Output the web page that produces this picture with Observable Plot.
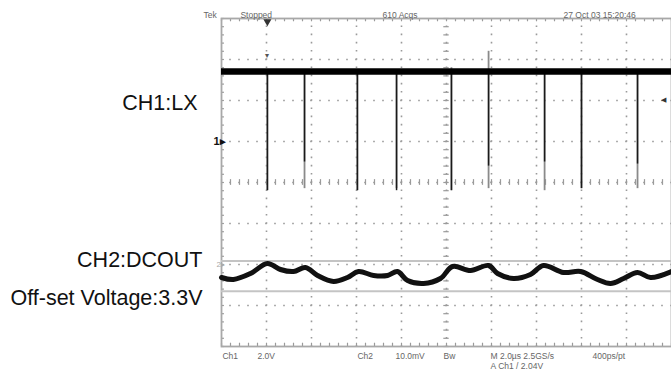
<!DOCTYPE html>
<html><head><meta charset="utf-8">
<script src="https://cdn.jsdelivr.net/npm/d3@7"></script>
<script src="https://cdn.jsdelivr.net/npm/@observablehq/plot@0.6"></script>
<style>
html,body{margin:0;padding:0;background:#fff;overflow:hidden;}
#chart svg{display:block;}
</style></head><body><div id="chart"></div>
<script>
// ---- scope settings ----
const timeDivs = [0, 2, 4, 6, 8, 10, 12, 14, 16, 18, 20];   // µs (2.0 µs/div)
const vertDivs = [-4, -3, -2, -1, 0, 1, 2, 3, 4];           // divisions
const ch1VoltsPerDiv = 2.0;
const ch1Offset = 1;      // CH1 ground marker (div)
const ch2mVPerDiv = 10.0;
const ch2Offset = -2;     // CH2 marker (div) = 3.3 V offset
const trigLevel = 2.04;   // V on CH1
const trigTime = 2.04;    // µs

// ---- CH1 : LX ----
const ch1High = 3.41;     // V
const spikeTimes   = [2.04, 3.69, 6.04, 7.78, 10.22, 11.87, 14.36, 16.0, 18.49];
const spikeMin     = [-2.4, -2.3, -2.4, -2.3, -2.4, -2.3, -2.4, -2.3, -2.3];
const spikeDarkMin = [-2.4, -1.0, -2.4, -2.4, -2.4, -1.2, -1.0, -2.3, -1.1];
const spikeMax     = [3.41, 3.41, 3.41, 3.41, 3.6, 4.4, 3.41, 3.41, 3.41];

// ---- CH2 : DCOUT ripple (mV, relative to 3.3 V offset) ----
const ch2Time = [0.00, 0.53, 1.29, 2.04, 2.62, 3.20, 3.73, 4.27, 4.98, 5.60, 6.09, 6.76, 7.38, 7.82,
                 8.27, 8.98, 9.73, 10.27, 11.07, 11.87, 12.27, 12.98, 13.73, 14.31, 15.20, 15.96,
                 16.71, 17.29, 17.87, 18.49, 19.07, 20.00];
const ch2mV   = [-3.17, -3.66, -2.20, 0.24, -1.22, -1.71, -0.73, -2.68, -4.15, -3.17, -1.71, -2.68, -2.68, -1.71,
                 -3.90, -4.63, -3.41, -0.49, -1.46, -0.24, -2.20, -3.41, -2.44, -0.24, -1.95, -1.71,
                 -3.66, -4.63, -3.41, -1.95, -3.17, -1.71];
const cursorsmV = [0.85, -6.5];

// ---- texts ----
const sideLabels = ["CH1:LX", "CH2:DCOUT", "Off-set Voltage:3.3V"];
const headerText = ["Tek", "Stopped", "610 Acqs", "27 Oct 03 15:20:46"];
const footerLine1 = ["Ch1", "2.0V", "Ch2", "10.0mV", "Bw", "M 2.0µs 2.5GS/s", "400ps/pt"];
const footerLine2 = ["A Ch1 / 2.04V"];

const toDiv1 = v => ch1Offset + v / ch1VoltsPerDiv;
const toDiv2 = mv => ch2Offset + mv / ch2mVPerDiv;

const minorX = d3.range(0, 20.001, 0.4);
const minorY = d3.range(-4, 4.001, 0.2);

const spikes = spikeTimes.map((t, i) => ({t, lo: spikeMin[i], dark: spikeDarkMin[i], hi: spikeMax[i]}));
const ch2 = ch2Time.map((t, i) => ({t, v: ch2mV[i]}));

const font = "Liberation Sans, Arial, sans-serif";
const gridColor = "#9a9a9a";

const chart = Plot.plot({
  width: 671, height: 378,
  marginLeft: 221, marginRight: 0, marginTop: 18, marginBottom: 32,
  x: {domain: [0, 20], axis: null},
  y: {domain: [-4, 4], axis: null},
  style: {background: "#fff", overflow: "visible", fontFamily: font},
  marks: [
    // graticule
    Plot.ruleX(timeDivs.slice(1, -1), {x: d => d, stroke: gridColor, strokeWidth: 1.6,
      strokeDasharray: "1.6,6.6", strokeDashoffset: 0.8}),
    Plot.ruleY(vertDivs.slice(1, -1), {y: d => d, stroke: gridColor, strokeWidth: 1.6,
      strokeDasharray: "1.6,7.4", strokeDashoffset: 0.8}),
    // centre-line ticks
    Plot.ruleY(minorY, {y: d => d, x1: 10 - 0.12, x2: 10 + 0.12, stroke: gridColor, strokeWidth: 1.2}),
    Plot.ruleX(minorX, {x: d => d, y1: -0.07, y2: 0.07, stroke: gridColor, strokeWidth: 1.2}),
    // border ticks
    Plot.ruleX(minorX, {x: d => d, y1: 4, y2: 3.92, stroke: gridColor, strokeWidth: 1.2}),
    Plot.ruleX(minorX, {x: d => d, y1: -4, y2: -3.92, stroke: gridColor, strokeWidth: 1.2}),
    Plot.ruleY(minorY, {y: d => d, x1: 0, x2: 0.13, stroke: gridColor, strokeWidth: 1.2}),
    Plot.frame({stroke: "#a8a8a8", strokeWidth: 1.8}),

    // CH2 cursor bars
    Plot.ruleY(cursorsmV, {y: d => toDiv2(d), stroke: "#c4c4c4", strokeWidth: 2}),

    // CH1 spikes
    Plot.ruleX(spikes, {x: "t", y1: d => toDiv1(d.lo), y2: d => toDiv1(d.hi), stroke: "#8a8a8a", strokeWidth: 1.8}),
    Plot.ruleX(spikes, {x: "t", y1: d => toDiv1(d.dark), y2: d => toDiv1(ch1High), stroke: "#1a1a1a", strokeWidth: 1.5}),
    // CH1 high level
    Plot.ruleY([ch1High], {y: d => toDiv1(d), stroke: "#000", strokeWidth: 6.5}),

    // CH2 ripple
    Plot.line(ch2, {x: "t", y: d => toDiv2(d.v), curve: "catmull-rom", stroke: "#111", strokeWidth: 5,
      strokeLinejoin: "round", strokeLinecap: "round"}),

    // markers
    Plot.text(["1\u25B8"], {frameAnchor: "left", y: ch1Offset, dx: -8, fontSize: 11, fontWeight: "bold", fill: "#111"}),
    Plot.text(["2\u25B8"], {frameAnchor: "left", y: ch2Offset, dx: -5, fontSize: 8, fill: "#aaa"}),
    Plot.text(["\u25C0"], {frameAnchor: "right", y: toDiv1(trigLevel), dx: -6, fontSize: 7, fill: "#333"}),
    Plot.dot([trigTime], {x: d => d, y: 4, symbol: "triangle", rotate: 180, r: 3, fill: "#333", dy: 3}),
    Plot.text(["\u25BE"], {x: [trigTime], y: 3.1, fontSize: 8, fill: "#555"}),

    // side labels
    Plot.text([sideLabels[0]], {frameAnchor: "left", y: 1.94, dx: -24, textAnchor: "end", fontSize: 21.5, fill: "#111"}),
    Plot.text(sideLabels.slice(1), {frameAnchor: "left", y: [-1.89, -2.82], dx: -19, textAnchor: "end", fontSize: 21.5, fill: "#111"}),

    // header
    Plot.text(headerText, {x: [-0.8, 0.84, 7.16, 15.2], frameAnchor: "top", dy: -7, textAnchor: "start",
      fontSize: 8.5, fill: "#666"}),
    // footer
    Plot.text(footerLine1, {x: [0.04, 1.6, 6.04, 7.73, 9.87, 11.96, 16.49], frameAnchor: "bottom", dy: 12,
      textAnchor: "start", fontSize: 8.5, fill: "#666"}),
    Plot.text(footerLine2, {x: [11.96], frameAnchor: "bottom", dy: 22,
      textAnchor: "start", fontSize: 8.5, fill: "#666"})
  ]
});
document.getElementById("chart").append(chart);
</script>
</body></html>
